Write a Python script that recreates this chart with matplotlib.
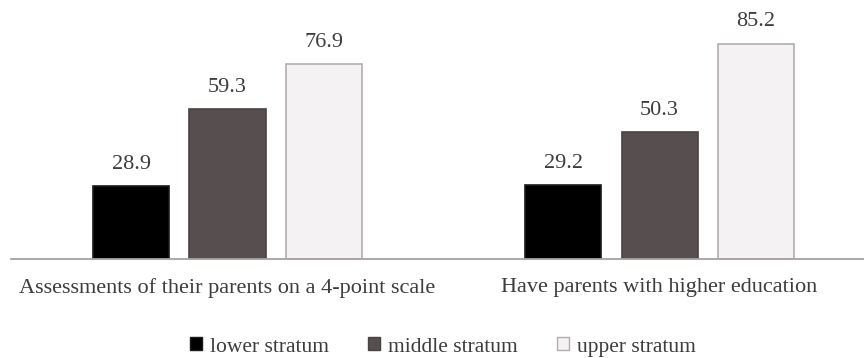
import matplotlib
matplotlib.use("Agg")
import matplotlib.pyplot as plt
from matplotlib.patches import Patch
import numpy as np

categories = ["Assessments of their parents on a 4-point scale",
              "Have parents with higher education"]
series_names = ["lower stratum", "middle stratum", "upper stratum"]
lower = [28.9, 29.2]
middle = [59.3, 50.3]
upper = [76.9, 85.2]

face_colors = ["#000000", "#574f4f", "#f4f2f2"]
edge_colors = ["#1a1a1a", "#4a4242", "#b5adad"]
text_color = "#3c3c3c"

plt.rcParams["font.family"] = ["Liberation Serif", "DejaVu Serif"]

fig = plt.figure(figsize=(8.64, 3.58), dpi=100)
W, H = 864, 358
ax = fig.add_axes([11 / W, (H - 259) / H, (864 - 11) / W, 259 / H])

x = np.arange(len(categories))
width = 0.176
step = 0.223
for i, (vals, fc, ec) in enumerate(zip([lower, middle, upper], face_colors, edge_colors)):
    pos = x + (i - 1) * step
    bars = ax.bar(pos, vals, width, color=fc, edgecolor=ec, linewidth=1.2)
    for b, v in zip(bars, vals):
        ax.annotate(f"{v:.1f}", (b.get_x() + b.get_width() / 2, v),
                    xytext=(0, 15.5), textcoords="offset points",
                    ha="center", va="center", fontsize=16, color=text_color)

ax.set_xlim(-0.501, 1.473)
ax.set_ylim(0, 102.4)
for s in ["top", "right", "left"]:
    ax.spines[s].set_visible(False)
ax.spines["bottom"].set_color("#a8a0a0")
ax.spines["bottom"].set_linewidth(1.3)
ax.set_yticks([])
ax.set_xticks(x)
ax.set_xticklabels(categories, fontsize=16, color=text_color)
ax.tick_params(axis="x", length=0, pad=13.5)

handles = [Patch(facecolor=fc, edgecolor=ec, label=n)
           for fc, ec, n in zip(face_colors, edge_colors, series_names)]
fig.legend(handles=handles, loc="center", bbox_to_anchor=(443 / W, 1 - 347 / H),
           ncol=3, frameon=False, fontsize=15.5, handlelength=0.55, handleheight=0.55,
           handletextpad=0.4, columnspacing=1.8, labelcolor=text_color)

fig.savefig("out.png", dpi=100)
